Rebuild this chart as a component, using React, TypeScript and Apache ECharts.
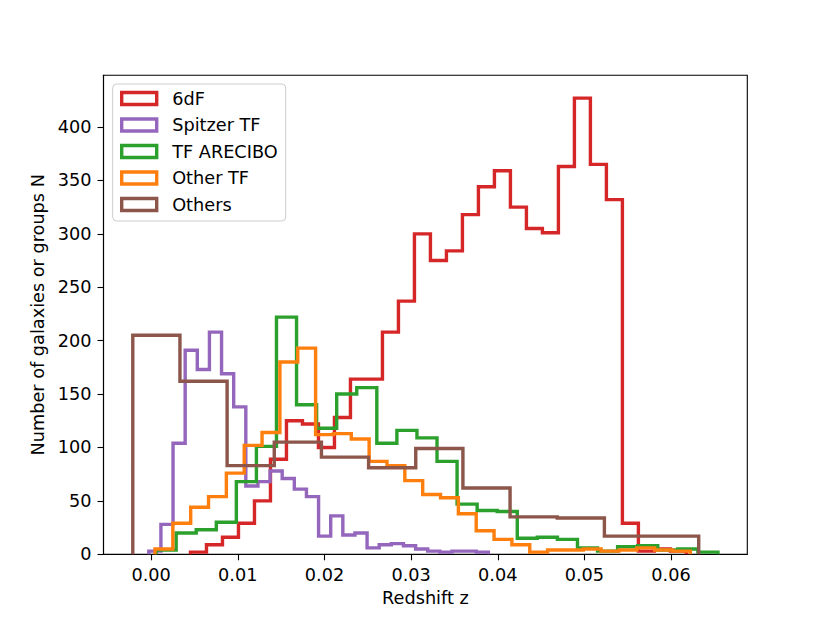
import React, { useEffect, useRef } from 'react';
import * as echarts from 'echarts';

const FONT = 'DejaVu Sans';
const FS = 17.7;

const seriesNames = ['6dF', 'Spitzer TF', 'TF ARECIBO', 'Other TF', 'Others'];
const seriesColors = ['#d62728', '#9467bd', '#2ca02c', '#ff7f0e', '#8c564b'];

// first bin edge and bin width of each histogram (redshift units)
const binStarts = [0.004538, -0.000273, 0.000569, 0.000442, -0.00212];
const binWidths = [0.0018462, 0.0013996, 0.0023158, 0.0020596, 0.0054427];

const counts6dF = [2, 9, 16, 29, 50, 89, 125, 122, 100, 128, 164, 164, 208, 237, 300, 275, 284, 318, 344, 359, 325, 305, 301, 363, 427, 365, 332, 29, 3, 5, 3];
const countsSpitzer = [3, 28, 104, 191, 173, 208, 169, 138, 64, 68, 78, 71, 61, 54, 17, 36, 18, 20, 6, 9, 10, 8, 5, 3, 2, 3, 3, 2];
const countsArecibo = [4, 20, 23, 30, 68, 101, 222, 140, 118, 150, 156, 104, 116, 109, 87, 47, 41, 40, 15, 16, 14, 6, 3, 7, 8, 4, 5, 2];
const countsOtherTF = [5, 29, 44, 54, 76, 102, 114, 180, 193, 112, 113, 108, 87, 83, 69, 56, 53, 38, 22, 14, 9, 2, 4, 4, 5, 3, 4, 6, 4, 3];
const countsOthers = [205, 162, 83, 105, 91, 81, 99, 62, 35, 34, 17, 17];

const allCounts = [counts6dF, countsSpitzer, countsArecibo, countsOtherTF, countsOthers];

const xTickValues = [0, 0.01, 0.02, 0.03, 0.04, 0.05, 0.06];
const yTickValues = [0, 50, 100, 150, 200, 250, 300, 350, 400];

function stepPoints(start: number, width: number, counts: number[]) {
  const pts: number[][] = [[start, 0]];
  counts.forEach((c, i) => {
    pts.push([start + i * width, c]);
    pts.push([start + (i + 1) * width, c]);
  });
  pts.push([start + counts.length * width, 0]);
  return pts;
}

export default function App() {
  const ref = useRef<HTMLDivElement>(null);
  useEffect(() => {
    if (!ref.current) return;
    const chart = echarts.init(ref.current, undefined, { renderer: 'svg' });
    const axisCommon = {
      axisLine: { show: true, onZero: false, lineStyle: { color: '#000', width: 1.1 } },
      axisTick: { show: true, length: 6, lineStyle: { color: '#000', width: 1.1 } },
      splitLine: { show: false },
    };
    chart.setOption({
      animation: false,
      backgroundColor: '#fff',
      grid: {
        left: 103.5,
        right: 82.7,
        top: 75.3,
        bottom: 68.7,
        show: true,
        borderColor: '#000',
        borderWidth: 1.1,
        backgroundColor: 'transparent',
      },
      xAxis: {
        type: 'value',
        min: -0.0055,
        max: 0.0688,
        ...axisCommon,
        axisTick: { ...axisCommon.axisTick, customValues: xTickValues },
        axisLabel: {
          customValues: xTickValues,
          formatter: (v: number) => v.toFixed(2),
          fontFamily: FONT,
          fontSize: FS,
          color: '#000',
          margin: 12,
        },
        name: 'Redshift z',
        nameLocation: 'middle',
        nameGap: 35,
        nameTextStyle: { fontFamily: FONT, fontSize: FS, color: '#000' },
      },
      yAxis: {
        type: 'value',
        min: 0,
        max: 448.4,
        ...axisCommon,
        axisTick: { ...axisCommon.axisTick, customValues: yTickValues },
        axisLabel: {
          customValues: yTickValues,
          fontFamily: FONT,
          fontSize: FS,
          color: '#000',
          margin: 12,
        },
        name: 'Number of galaxies or groups N',
        nameLocation: 'middle',
        nameGap: 56,
        nameTextStyle: { fontFamily: FONT, fontSize: FS, color: '#000' },
      },
      legend: {
        orient: 'vertical',
        left: 112.7,
        top: 84,
        icon: 'rect',
        itemWidth: 35,
        itemHeight: 12,
        itemGap: 6.5,
        padding: [4.5, 8, 6.5, 7.3],
        backgroundColor: 'rgba(255,255,255,0.8)',
        borderColor: '#cccccc',
        borderWidth: 1,
        borderRadius: 4,
        textStyle: { fontFamily: FONT, fontSize: FS, color: '#000', lineHeight: 20, padding: [0, 0, 0, 10.5] },
        data: seriesNames.map((n, i) => ({
          name: n,
          itemStyle: { color: '#ffffff', borderColor: seriesColors[i], borderWidth: 3.4 },
        })),
      },
      series: seriesNames.map((n, i) => ({
        name: n,
        type: 'line',
        data: stepPoints(binStarts[i], binWidths[i], allCounts[i]),
        symbol: 'none',
        lineStyle: { color: seriesColors[i], width: 3.4, join: 'miter', cap: 'butt' },
        itemStyle: { color: seriesColors[i] },
        clip: true,
      })),
    });
    return () => chart.dispose();
  }, []);
  return <div ref={ref} style={{ position: 'absolute', left: 0, top: 0, width: 830, height: 623 }} />;
}
